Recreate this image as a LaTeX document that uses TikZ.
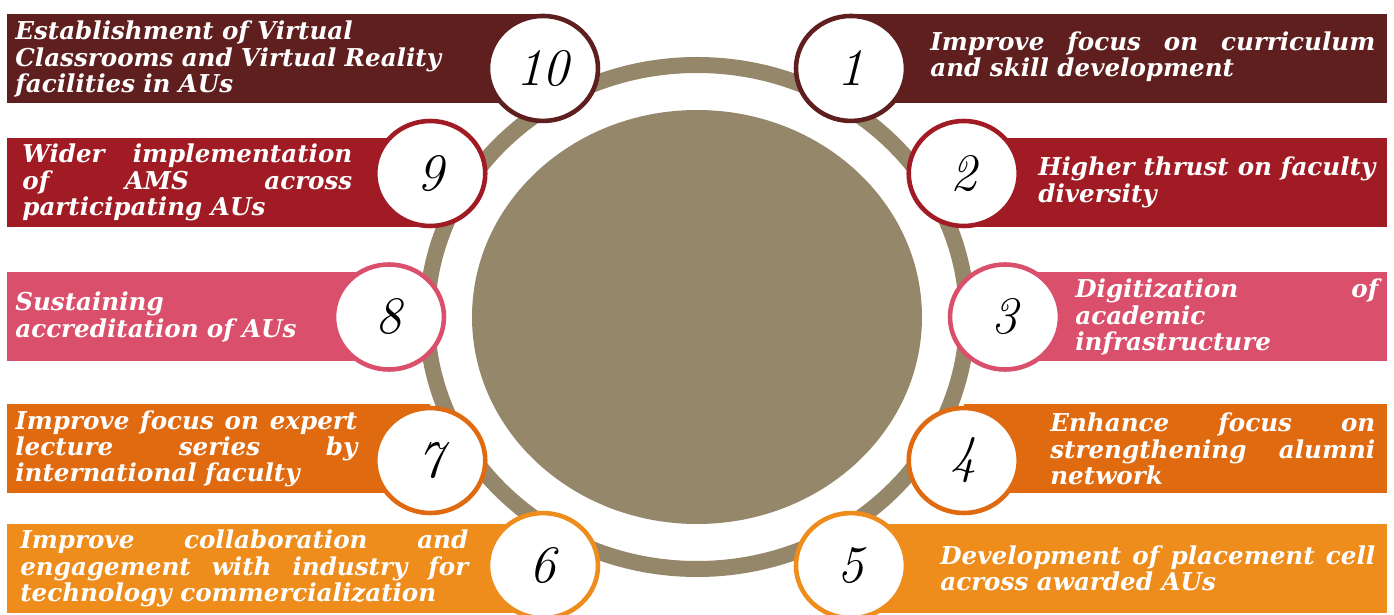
\documentclass[tikz,border=0pt]{standalone}
\usepackage{fontspec}
\newfontfamily\bandfont{DejaVu Serif}
\usetikzlibrary{shapes.geometric,shadows}

\definecolor{maroon}{HTML}{5E1F1E}
\definecolor{crimson}{HTML}{A01B23}
\definecolor{rose}{HTML}{DA506C}
\definecolor{rust}{HTML}{E06A10}
\definecolor{amber}{HTML}{EE8C1C}
\definecolor{khaki}{HTML}{94876A}

\begin{document}
\begin{tikzpicture}[
        numcircle/.style={ellipse, draw=#1, line width=2.6pt, fill=white,
            minimum width=2.2cm, minimum height=2.1cm, inner sep=0pt,
            drop shadow={shadow xshift=0.6pt, shadow yshift=-1.2pt, opacity=0.3},
            font=\fontsize{30}{30}\selectfont\itshape\addfontfeatures{Numbers=OldStyle}},
        bandtext/.style={text=white, inner sep=0pt, anchor=west, align=justify,
            font=\bandfont\fontsize{14}{15}\selectfont\bfseries\itshape}
        ]
        \useasboundingbox (-13.94,-5.96) rectangle (13.94,6.34);
        % centre disc and ring
        \fill[khaki] (0,0) ellipse [x radius=4.5, y radius=4.14];
        \draw[khaki, line width=0.32cm] (0,0) ellipse [x radius=5.4, y radius=5.04];
        % right side
        \foreach \n/\ang/\yb/\col in {1/60/5.16/maroon, 2/30/2.69/crimson, 3/0/0/rose, 4/-30/-2.64/rust, 5/-60/-5.03/amber} {
            \fill[\col] ({6.16*cos(\ang)},{\yb+0.89}) rectangle (13.8,{\yb-0.89});
            \node[numcircle=\col] (c\n) at ({6.16*cos(\ang)},{5.74*sin(\ang)}) {\n};
        }
        % left side
        \foreach \n/\ang/\yb/\col in {10/120/5.16/maroon, 9/150/2.69/crimson, 8/180/0/rose, 7/210/-2.64/rust, 6/240/-5.03/amber} {
            \fill[\col] (-13.8,{\yb+0.89}) rectangle ({6.16*cos(\ang)},{\yb-0.89});
            \node[numcircle=\col] (c\n) at ({6.16*cos(\ang)},{5.74*sin(\ang)}) {\n};
        }
        % texts
        \node[bandtext, text width=8.9cm] (t1) at (4.66,5.2) {Improve focus on curriculum\linebreak and skill development};
        \node[bandtext, text width=6.74cm] (t2) at (6.82,2.69) {Higher thrust on faculty\linebreak diversity};
        \node[bandtext, text width=6.06cm] (t3) at (7.56,0) {Digitization of\linebreak academic\\ infrastructure};
        \node[bandtext, text width=6.5cm] (t4) at (7.06,-2.64) {Enhance focus on\linebreak strengthening alumni\linebreak network};
        \node[bandtext, text width=8.7cm] (t5) at (4.86,-5.03) {Development of placement cell\linebreak across awarded AUs};
        \node[bandtext, text width=8.7cm, align=left] (t10) at (-13.64,5.16) {Establishment of Virtual\\ Classrooms and Virtual Reality\\ facilities in AUs};
        \node[bandtext, text width=6.6cm] (t9) at (-13.5,2.69) {Wider implementation\linebreak of AMS across\linebreak participating AUs};
        \node[bandtext, text width=6.6cm, align=left] (t8) at (-13.64,0) {Sustaining\\ accreditation of AUs};
        \node[bandtext, text width=6.84cm] (t7) at (-13.64,-2.64) {Improve focus on expert\linebreak lecture series by\linebreak international faculty};
        \node[bandtext, text width=8.96cm] (t6) at (-13.54,-5.03) {Improve collaboration and\linebreak engagement with industry for\linebreak technology commercialization};
\end{tikzpicture}
\end{document}
